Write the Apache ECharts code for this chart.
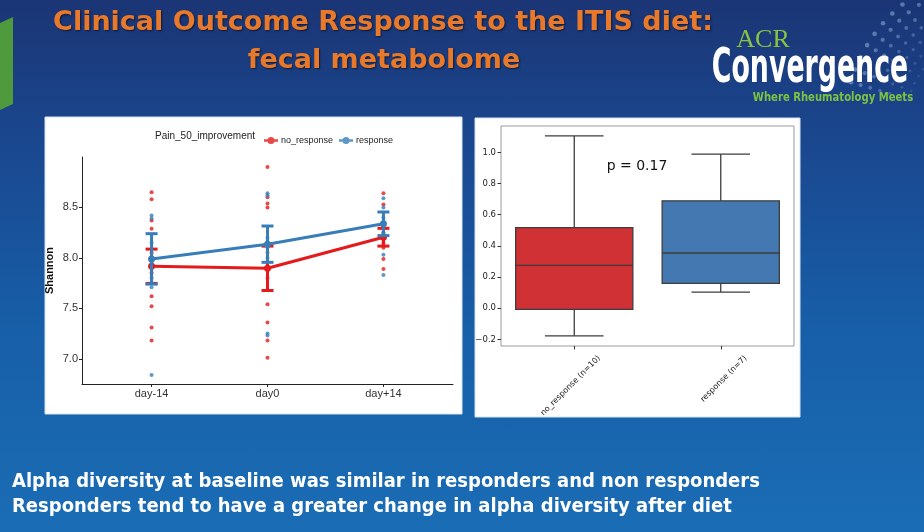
<!DOCTYPE html>
<html>
<head>
<meta charset="utf-8">
<script src="https://cdn.jsdelivr.net/npm/echarts@6/dist/echarts.min.js"></script>
<style>
html, body { margin: 0; padding: 0; }
#chart {
    width: 924px; height: 532px;
    background: linear-gradient(180deg, #1b3575 0%, #1a4890 28%, #175ea7 60%, #1a6db5 100%);
}
</style>
</head>
<body>
<div id="chart"></div>
<script>
// ---- left panel: Shannon by time point ----
var days = ['day-14', 'day0', 'day+14'];
var shannonTicks = [7.0, 7.5, 8.0, 8.5];
// individual samples, one list per time point
var noRespDots = [
    [8.65, 8.58, 8.37, 8.29, 8.05, 7.85, 7.62, 7.52, 7.31, 7.18],
    [8.90, 8.60, 8.54, 8.50, 8.05, 7.80, 7.54, 7.36, 7.18, 7.01],
    [8.64, 8.53, 8.35, 8.30, 8.25, 8.15, 8.10, 7.99, 7.89, 8.20]
];
var respDots = [
    [8.42, 8.39, 8.15, 7.95, 7.80, 7.71, 6.84],
    [8.64, 8.62, 8.20, 8.00, 8.10, 7.25, 7.23],
    [8.59, 8.50, 8.40, 8.30, 8.25, 8.03, 7.83]
];
var noRespMean = [7.917, 7.897, 8.205];
var noRespSe = [0.17, 0.22, 0.088];
var respMean = [7.99, 8.136, 8.338];
var respSe = [0.25, 0.18, 0.117];

// ---- right panel: change in alpha diversity ----
var boxCats = ['no_response (n=10)', 'response (n=7)'];
var deltaTicks = [-0.2, 0.0, 0.2, 0.4, 0.6, 0.8, 1.0];
// low whisker, q1, median, q3, high whisker
var boxNoResp = [-0.178, -0.008, 0.275, 0.517, 1.105];
var boxResp = [0.103, 0.159, 0.354, 0.689, 0.989];

var RED = '#e41a1c', BLUE = '#377eb8';
var BOX_RED = '#d03134', BOX_BLUE = '#4379b0';

function dots(groups) {
    var out = [];
    groups.forEach(function (g, i) {
        g.forEach(function (v) { out.push([i, v]); });
    });
    return out;
}
function meanPts(m) {
    return m.map(function (v, i) { return [i, v]; });
}
function errData(m, se) {
    return m.map(function (v, i) { return [i, v - se[i], v + se[i]]; });
}

// mean +- se bar with caps
function renderErr(params, api) {
    var x = api.value(0);
    var lo = api.coord([x, api.value(1)]);
    var hi = api.coord([x, api.value(2)]);
    var hw = 6;
    var st = {stroke: api.visual('color'), lineWidth: 3};
    return {
        type: 'group', children: [
            {type: 'line', shape: {x1: lo[0], y1: lo[1], x2: hi[0], y2: hi[1]}, style: st},
            {type: 'line', shape: {x1: lo[0] - hw, y1: lo[1], x2: lo[0] + hw, y2: lo[1]}, style: st},
            {type: 'line', shape: {x1: hi[0] - hw, y1: hi[1], x2: hi[0] + hw, y2: hi[1]}, style: st}
        ]
    };
}

// seaborn-like box: caps half the box width
function renderBox(params, api) {
    var c = api.value(0);
    var band = api.size([1, 0])[0];
    var bw = band * 0.8, cw = bw / 4;
    var p = [1, 2, 3, 4, 5].map(function (d) { return api.coord([c, api.value(d)]); });
    var cx = p[0][0];
    var edge = {stroke: '#3d3d3d', lineWidth: 1.3};
    return {
        type: 'group', children: [
            {type: 'line', shape: {x1: cx, y1: p[0][1], x2: cx, y2: p[1][1]}, style: edge},
            {type: 'line', shape: {x1: cx, y1: p[3][1], x2: cx, y2: p[4][1]}, style: edge},
            {type: 'line', shape: {x1: cx - cw, y1: p[0][1], x2: cx + cw, y2: p[0][1]}, style: edge},
            {type: 'line', shape: {x1: cx - cw, y1: p[4][1], x2: cx + cw, y2: p[4][1]}, style: edge},
            {type: 'rect', shape: {x: cx - bw / 2, y: p[3][1], width: bw, height: p[1][1] - p[3][1]},
                style: {fill: api.visual('color'), stroke: '#3d3d3d', lineWidth: 1.3}},
            {type: 'line', shape: {x1: cx - bw / 2, y1: p[2][1], x2: cx + bw / 2, y2: p[2][1]}, style: edge}
        ]
    };
}

var chart = echarts.init(document.getElementById('chart'), null, {renderer: 'canvas'});

var legendIcon = 'path://M0,2.7L14,2.7L14,5.3L0,5.3Z M3.5,4A3.5,3.5 0 1 1 10.5,4A3.5,3.5 0 1 1 3.5,4Z';
var titleShadow = {textShadowColor: 'rgba(0,0,0,0.55)', textShadowBlur: 2, textShadowOffsetX: 1, textShadowOffsetY: 1};

// faint dotted arcs behind the logo (decoration only)
var logoDots = [];
for (var r = 95; r <= 155; r += 10) {
    for (var a = 196; a <= 268; a += 5) {
        var rad = a * Math.PI / 180;
        var px = 1000 + r * Math.cos(rad), py = 125 + r * Math.sin(rad);
        if (px < 924 && py > 0) {
            logoDots.push({type: 'circle', z: -20, shape: {cx: px, cy: py, r: 1.3 + (r - 95) / 60},
                style: {fill: 'rgba(170,205,240,' + (0.15 + (r - 95) / 200) + ')'}});
        }
    }
}

var option = {
    backgroundColor: 'transparent',
    animation: false,
    textStyle: {fontFamily: 'Liberation Sans, Arial, sans-serif'},
    graphic: [
        // white panels behind the two plots
        {type: 'rect', z: -10, shape: {x: 45, y: 117, width: 417, height: 297}, style: {fill: '#fff', stroke: '#d5e2ef', lineWidth: 1}},
        {type: 'rect', z: -10, shape: {x: 475, y: 118, width: 325, height: 299}, style: {fill: '#fff', stroke: '#d5e2ef', lineWidth: 1}},
        // green tab on the left edge
        {type: 'polygon', z: -10, shape: {points: [[0, 23], [13, 17], [13, 104], [0, 110]]}, style: {fill: '#4f9a3c'}},
        // slide title
        {type: 'text', z: 50, x: 383, y: 23, style: Object.assign({
            text: 'Clinical Outcome Response to the ITIS diet:', fill: '#e8792b',
            font: 'bold 27px "DejaVu Sans", sans-serif', align: 'center', verticalAlign: 'middle'}, titleShadow)},
        {type: 'text', z: 50, x: 384, y: 61, style: Object.assign({
            text: 'fecal metabolome', fill: '#e8792b',
            font: 'bold 27px "DejaVu Sans", sans-serif', align: 'center', verticalAlign: 'middle'}, titleShadow)},
        // logo
        {type: 'text', z: 50, x: 763, y: 40, style: {
            text: 'ACR', fill: '#86c340', font: '26px "Liberation Serif", serif', align: 'center', verticalAlign: 'middle'}},
        {type: 'text', z: 50, x: 810, y: 70, scaleX: 0.62, style: {
            text: 'Convergence', fill: '#ffffff', font: 'bold 48px "DejaVu Sans Condensed", sans-serif', align: 'center', verticalAlign: 'middle'}},
        {type: 'text', z: 50, x: 833, y: 98, scaleX: 0.86, style: {
            text: 'Where Rheumatology Meets', fill: '#7cc242', font: 'bold 13px "DejaVu Sans Condensed", sans-serif', align: 'center', verticalAlign: 'middle'}},
        // bottom takeaway lines
        {type: 'text', z: 50, x: 12, y: 482, style: {
            text: 'Alpha diversity at baseline was similar in responders and non responders', fill: '#ffffff',
            font: 'bold 20px "DejaVu Sans Condensed", sans-serif', verticalAlign: 'middle'}},
        {type: 'text', z: 50, x: 12, y: 507, style: {
            text: 'Responders tend to have a greater change in alpha diversity after diet', fill: '#ffffff',
            font: 'bold 20px "DejaVu Sans Condensed", sans-serif', verticalAlign: 'middle'}},
        // legend title and p value
        {type: 'text', z: 50, x: 155, y: 136, style: {
            text: 'Pain_50_improvement', fill: '#222', font: '10px "Liberation Sans", Arial, sans-serif', verticalAlign: 'middle'}},
        {type: 'text', z: 50, x: 637, y: 166, style: {
            text: 'p = 0.17', fill: '#111', font: '14px "DejaVu Sans", sans-serif', align: 'center', verticalAlign: 'middle'}}
    ].concat(logoDots),
    legend: {
        left: 259, top: 131,
        itemWidth: 14, itemHeight: 7, itemGap: 6,
        textStyle: {fontSize: 9, color: '#222', padding: [0, 0, 0, -2]},
        data: [
            {name: 'no_response', icon: legendIcon, itemStyle: {color: RED}},
            {name: 'response', icon: legendIcon, itemStyle: {color: BLUE}}
        ]
    },
    grid: [
        {left: 82, top: 157, width: 371, height: 227},
        {left: 501, top: 126, width: 293, height: 220, show: true, borderColor: '#9a9a9a', borderWidth: 1},
        // label-only grid, shifted so rotated labels sit like matplotlib's
        {left: 526, top: 126, width: 293, height: 220}
    ],
    xAxis: [
        {
            type: 'value', gridIndex: 0, min: -0.6, max: 2.6,
            splitLine: {show: false},
            axisLine: {onZero: false, lineStyle: {color: '#222', width: 1}},
            axisTick: {customValues: [0, 1, 2], length: 3, lineStyle: {color: '#222'}},
            axisLabel: {customValues: [0, 1, 2], color: '#333', fontSize: 11, margin: 4,
                formatter: function (v) { return days[Math.round(v)]; }}
        },
        {
            type: 'category', gridIndex: 1, data: boxCats, boundaryGap: true,
            axisLine: {show: false, onZero: false},
            axisTick: {show: true, alignWithLabel: true, length: 3.5, lineStyle: {color: '#333'}},
            axisLabel: {show: false}
        },
        {
            type: 'category', gridIndex: 2, data: boxCats, boundaryGap: true,
            axisLine: {show: false, onZero: false}, axisTick: {show: false},
            axisLabel: {rotate: 45, margin: 11, fontSize: 8, color: '#222', fontFamily: 'DejaVu Sans'}
        }
    ],
    yAxis: [
        {
            type: 'value', gridIndex: 0, min: 6.75, max: 9.0,
            name: 'Shannon', nameLocation: 'middle', nameRotate: 90, nameGap: 27,
            nameTextStyle: {fontSize: 11, fontWeight: 'bold', color: '#111'},
            splitLine: {show: false},
            axisLine: {show: true, onZero: false, lineStyle: {color: '#222', width: 1}},
            axisTick: {show: true, customValues: shannonTicks, length: 3, lineStyle: {color: '#222'}},
            axisLabel: {customValues: shannonTicks, color: '#333', fontSize: 11, margin: 4,
                formatter: function (v) { return v.toFixed(1); }}
        },
        {
            type: 'value', gridIndex: 1, min: -0.243, max: 1.169,
            splitLine: {show: false},
            axisLine: {show: false, onZero: false},
            axisTick: {show: true, customValues: deltaTicks, length: 3.5, lineStyle: {color: '#333'}},
            axisLabel: {customValues: deltaTicks, color: '#222', fontSize: 8.5, margin: 5, fontFamily: 'DejaVu Sans',
                formatter: function (v) { return v < 0 ? '\u2212' + Math.abs(v).toFixed(1) : v.toFixed(1); }}
        },
        {type: 'value', gridIndex: 2, show: false}
    ],
    series: [
        {name: 'no_response', type: 'scatter', xAxisIndex: 0, yAxisIndex: 0, z: 2,
            symbolSize: 4, itemStyle: {color: RED}, data: dots(noRespDots)},
        {name: 'response', type: 'scatter', xAxisIndex: 0, yAxisIndex: 0, z: 2,
            symbolSize: 4, itemStyle: {color: BLUE}, data: dots(respDots)},
        {name: 'no_response', type: 'line', xAxisIndex: 0, yAxisIndex: 0, z: 3,
            symbol: 'circle', symbolSize: 7, itemStyle: {color: RED},
            lineStyle: {color: RED, width: 3}, data: meanPts(noRespMean)},
        {name: 'no_response', type: 'custom', xAxisIndex: 0, yAxisIndex: 0, z: 3,
            itemStyle: {color: RED}, renderItem: renderErr, encode: {x: 0, y: [1, 2]},
            data: errData(noRespMean, noRespSe)},
        {name: 'response', type: 'line', xAxisIndex: 0, yAxisIndex: 0, z: 4,
            symbol: 'circle', symbolSize: 7, itemStyle: {color: BLUE},
            lineStyle: {color: BLUE, width: 3}, data: meanPts(respMean)},
        {name: 'response', type: 'custom', xAxisIndex: 0, yAxisIndex: 0, z: 4,
            itemStyle: {color: BLUE}, renderItem: renderErr, encode: {x: 0, y: [1, 2]},
            data: errData(respMean, respSe)},
        {name: 'delta', type: 'custom', xAxisIndex: 1, yAxisIndex: 1,
            renderItem: renderBox, encode: {x: 0, y: [1, 2, 3, 4, 5]},
            data: [
                {value: [0].concat(boxNoResp), itemStyle: {color: BOX_RED}},
                {value: [1].concat(boxResp), itemStyle: {color: BOX_BLUE}}
            ]}
    ]
};

chart.setOption(option);
</script>
</body>
</html>
